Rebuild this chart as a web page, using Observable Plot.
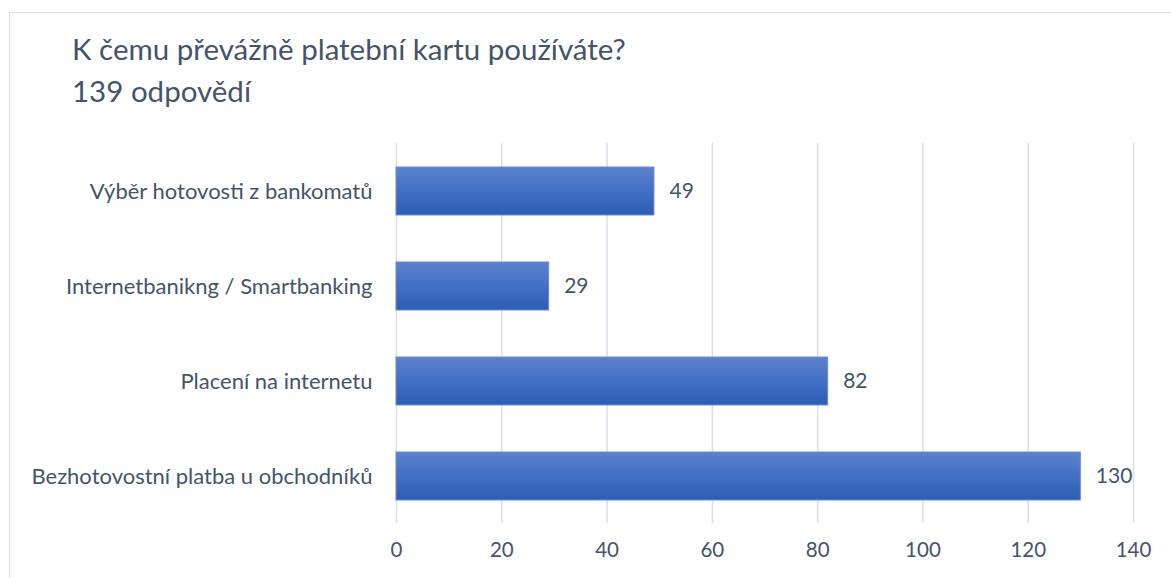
<!DOCTYPE html>
<html>
<head>
<meta charset="utf-8">
<script src="https://cdn.jsdelivr.net/npm/d3@7"></script>
<script src="https://cdn.jsdelivr.net/npm/@observablehq/plot@0.6"></script>
<style>
  html, body { margin: 0; padding: 0; background: #fff; width: 1171px; height: 578px; overflow: hidden; }
  #frame { position: absolute; left: 9px; top: 12px; width: 1200px; height: 600px; border-top: 1.5px solid #dde2ea; border-left: 1.5px solid #dde2ea; }
  #title { position: absolute; left: 72px; top: 28px; font-family: Lato, "Open Sans", sans-serif; font-size: 29.5px; line-height: 42px; color: #44546a; }
  #chart { position: absolute; left: 0; top: 0; }
</style>
</head>
<body>
<div id="frame"></div>
<div id="title">K čemu převážně platební kartu používáte?<br>139 odpovědí</div>
<div id="chart"></div>
<script>
const categories = [
  "Výběr hotovosti z bankomatů",
  "Internetbanikng / Smartbanking",
  "Placení na internetu",
  "Bezhotovostní platba u obchodníků"
];
const values = [49, 29, 82, 130];
const xTicks = [0, 20, 40, 60, 80, 100, 120, 140];

const data = categories.map((c, i) => ({category: c, value: values[i]}));

const plot = Plot.plot({
  width: 1171,
  height: 578,
  marginLeft: 396,
  marginRight: 38,
  marginTop: 143,
  marginBottom: 55,
  style: {fontFamily: "Lato, 'Open Sans', sans-serif", fontSize: "20px", color: "#44546a", background: "transparent"},
  x: {domain: [0, 140], ticks: xTicks, label: null},
  y: {domain: categories, paddingInner: 0.5, paddingOuter: 0.25, label: null},
  marks: [
    Plot.gridX(xTicks, {stroke: "#dadfe8", strokeOpacity: 1, strokeWidth: 1.5}),
    Plot.barX(data, {x: "value", y: "category", fill: "url(#barGrad)", stroke: "#6a8ed4", strokeWidth: 1}),
    Plot.text(data, {x: "value", y: "category", text: d => String(d.value), dx: 15, textAnchor: "start", fill: "#44546a", fontSize: 21}),
    Plot.axisX({ticks: xTicks, tickSize: 0, tickPadding: 19, fontSize: 20.5, fill: "#44546a"}),
    Plot.axisY({tickSize: 0, tickPadding: 24, fontSize: 22, fill: "#44546a"})
  ]
});

const svg = d3.select(plot);
const defs = svg.insert("defs", ":first-child");
const grad = defs.append("linearGradient").attr("id", "barGrad").attr("x1", 0).attr("y1", 0).attr("x2", 0).attr("y2", 1);
grad.append("stop").attr("offset", "0%").attr("stop-color", "#5c81cd");
grad.append("stop").attr("offset", "50%").attr("stop-color", "#4270c6");
grad.append("stop").attr("offset", "100%").attr("stop-color", "#2d5cb4");

document.getElementById("chart").appendChild(plot);
</script>
</body>
</html>
